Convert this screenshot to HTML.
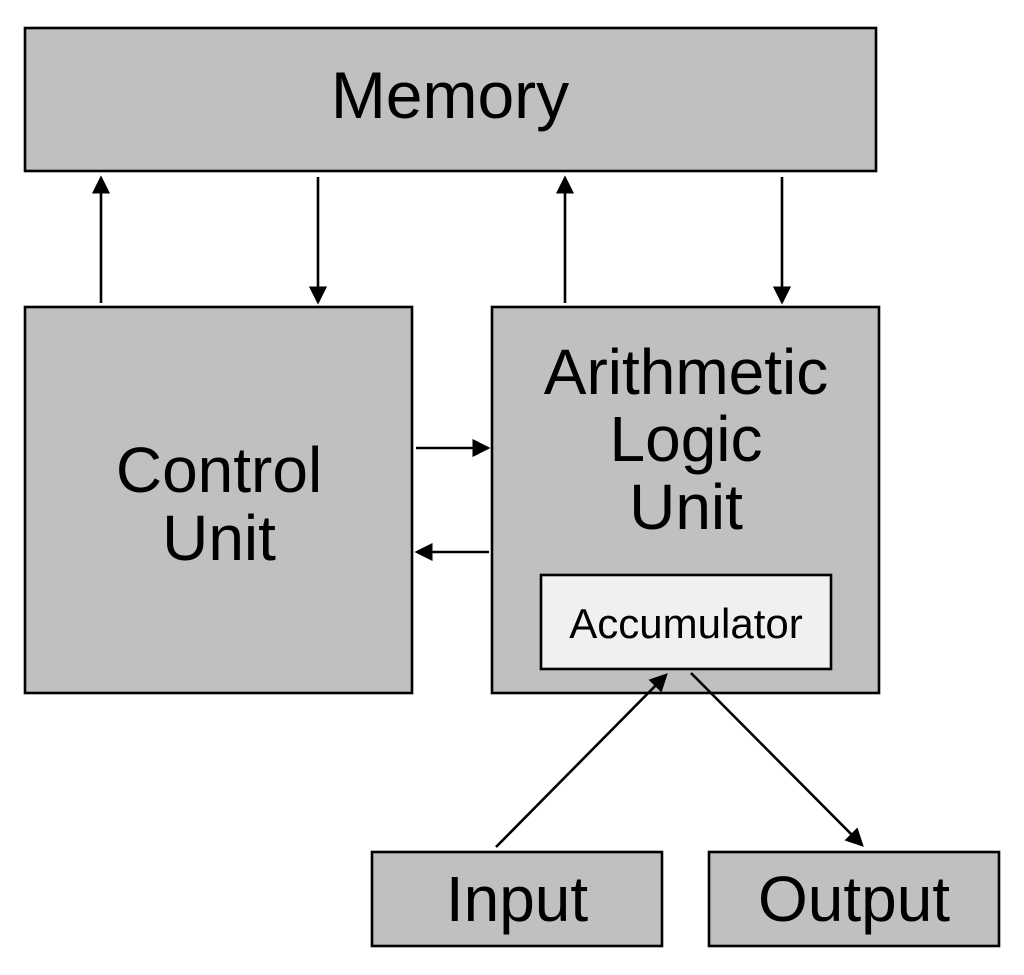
<!DOCTYPE html>
<html><head><style>body{margin:0;background:#fff}svg{display:block}</style></head>
<body>
<svg width="1024" height="975" viewBox="0 0 1024 975" xmlns="http://www.w3.org/2000/svg" font-family="Liberation Sans, sans-serif">
<defs>
<marker id="a" markerWidth="7" markerHeight="7" refX="6" refY="3.5" orient="auto" markerUnits="strokeWidth">
<path d="M0,0 L7,3.5 L0,7 Z" fill="#000"/></marker>
</defs>
<g stroke="#000" stroke-width="2.6">
<rect x="25" y="28" width="851" height="143" fill="#c0c0c0"/>
<rect x="25" y="307" width="387" height="386" fill="#c0c0c0"/>
<rect x="492" y="307" width="387" height="386" fill="#c0c0c0"/>
<rect x="541" y="575" width="290" height="94" fill="#f0f0f0"/>
<rect x="372" y="852" width="290" height="94" fill="#c0c0c0"/>
<rect x="709" y="852" width="290" height="94" fill="#c0c0c0"/>
<g marker-end="url(#a)" fill="none">
<line x1="101" y1="303" x2="101" y2="178"/>
<line x1="318" y1="177" x2="318" y2="302"/>
<line x1="565" y1="303" x2="565" y2="178"/>
<line x1="782" y1="177" x2="782" y2="302"/>
<line x1="416" y1="448" x2="488" y2="448"/>
<line x1="489" y1="552" x2="417" y2="552"/>
<line x1="496" y1="847" x2="666" y2="675"/>
<line x1="691" y1="673" x2="862" y2="845"/>
</g>
</g>
<g fill="#000" text-anchor="middle">
<text x="450" y="118" font-size="66">Memory</text>
<text x="219" y="492" font-size="64">Control</text>
<text x="219" y="560" font-size="64">Unit</text>
<text x="686" y="394" font-size="64">Arithmetic</text>
<text x="686" y="461" font-size="64">Logic</text>
<text x="686" y="529" font-size="64">Unit</text>
<text x="686" y="638" font-size="42">Accumulator</text>
<text x="517" y="921" font-size="64">Input</text>
<text x="854" y="921" font-size="64">Output</text>
</g>
</svg>
</body></html>
